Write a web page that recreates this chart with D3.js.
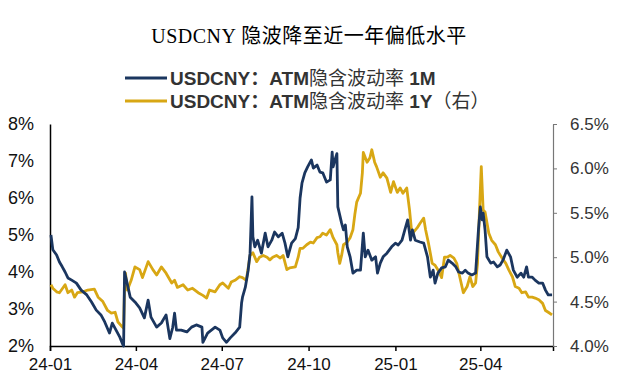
<!DOCTYPE html>
<html>
<meta charset=utf-8>
<head>
<style>
  body { margin: 0; background: #fff; }
  text { font-family: "Liberation Sans", "Noto Sans CJK SC", sans-serif; }
</style>
</head>
<body>
<svg id="canvas" width="640" height="386"></svg>
<script src="https://d3js.org/d3.v7.min.js"></script>
<script>

// USDCNY ATM implied vol 1M (left axis, %)
var dates1M = ['2024-01-02','2024-01-04','2024-01-08','2024-01-11','2024-01-14','2024-01-17','2024-01-20','2024-01-24','2024-01-29','2024-02-03',
  '2024-02-09','2024-02-14','2024-02-19','2024-02-24','2024-02-28','2024-03-04','2024-03-07','2024-03-11','2024-03-15','2024-03-18',
  '2024-03-19','2024-03-20','2024-03-22','2024-03-26','2024-03-31','2024-04-05','2024-04-10','2024-04-14','2024-04-17','2024-04-23',
  '2024-04-28','2024-05-03','2024-05-07','2024-05-10','2024-05-12','2024-05-14','2024-05-19','2024-05-25','2024-05-30','2024-06-04',
  '2024-06-10','2024-06-11','2024-06-16','2024-06-20','2024-06-24','2024-06-29','2024-07-02','2024-07-06','2024-07-10','2024-07-15',
  '2024-07-20','2024-07-22','2024-07-23','2024-07-26','2024-07-29','2024-07-31','2024-08-02','2024-08-03','2024-08-05','2024-08-08',
  '2024-08-12','2024-08-16','2024-08-19','2024-08-23','2024-08-26','2024-08-30','2024-09-03','2024-09-06','2024-09-09','2024-09-13',
  '2024-09-17','2024-09-20','2024-09-22','2024-09-24','2024-09-27','2024-09-30','2024-10-04','2024-10-06','2024-10-10','2024-10-13',
  '2024-10-16','2024-10-20','2024-10-24','2024-10-26','2024-10-27','2024-10-29','2024-10-31','2024-11-01','2024-11-05','2024-11-07',
  '2024-11-09','2024-11-11','2024-11-14','2024-11-17','2024-11-21','2024-11-25','2024-11-28','2024-11-30','2024-12-03','2024-12-07',
  '2024-12-11','2024-12-13','2024-12-16','2024-12-19','2024-12-23','2024-12-28','2025-01-01','2025-01-04','2025-01-08','2025-01-11',
  '2025-01-14','2025-01-17','2025-01-19','2025-01-22','2025-01-27','2025-01-31','2025-02-04','2025-02-07','2025-02-10','2025-02-12',
  '2025-02-15','2025-02-19','2025-02-23','2025-02-26','2025-03-02','2025-03-06','2025-03-09','2025-03-13','2025-03-16','2025-03-19',
  '2025-03-23','2025-03-27','2025-03-30','2025-04-01','2025-04-03','2025-04-04','2025-04-06','2025-04-08','2025-04-12','2025-04-15',
  '2025-04-19','2025-04-22','2025-04-25','2025-04-29','2025-05-03','2025-05-06','2025-05-10','2025-05-14','2025-05-17','2025-05-20',
  '2025-05-22','2025-05-26','2025-05-29','2025-06-02','2025-06-06','2025-06-09','2025-06-12','2025-06-16'];
var vol1M = [5.0,4.6,4.46,4.27,4.14,4.0,3.84,3.78,3.7,3.51,
  3.38,3.19,2.97,2.84,2.65,2.35,2.62,2.43,2.24,2.05,
  2.0,4.0,3.78,3.32,3.19,3.03,2.76,3.24,2.78,2.51,
  2.62,2.84,2.2,2.5,2.89,2.43,2.43,2.38,2.51,2.57,
  2.51,2.1,2.35,2.43,2.51,2.43,2.22,2.1,2.22,2.35,
  2.51,3.16,3.32,3.59,4.05,4.51,6.03,4.95,4.68,4.86,
  4.51,5.05,4.68,4.86,5.08,4.95,5.05,4.78,4.41,4.78,
  4.9,5.2,6.0,6.4,6.68,6.84,7.03,6.81,6.89,6.7,
  6.68,6.43,6.49,7.24,6.84,7.03,7.2,5.76,5.32,5.14,
  5.27,4.68,4.41,3.97,4.05,4.05,5.05,4.41,4.59,4.32,
  4.41,3.97,4.24,4.41,4.51,4.68,4.78,4.73,4.86,5.14,
  5.41,4.86,5.14,4.86,4.81,4.78,4.41,3.86,4.05,3.7,
  3.97,4.11,4.14,4.32,4.24,4.14,4.0,3.97,4.05,3.97,
  3.92,3.97,5.14,5.76,5.41,5.59,5.14,4.41,4.24,4.27,
  4.14,4.19,4.32,4.59,4.41,4.05,3.86,3.97,3.86,4.14,
  3.86,3.86,3.78,3.7,3.7,3.51,3.38,3.38];

// USDCNY ATM implied vol 1Y (right axis, %)
var dates1Y = ['2024-01-02','2024-01-04','2024-01-08','2024-01-11','2024-01-17','2024-01-20','2024-01-24','2024-01-27','2024-01-30','2024-02-05',
  '2024-02-10','2024-02-17','2024-02-21','2024-02-26','2024-03-02','2024-03-06','2024-03-10','2024-03-13','2024-03-18','2024-03-19',
  '2024-03-20','2024-03-21','2024-03-23','2024-03-27','2024-03-31','2024-04-05','2024-04-08','2024-04-14','2024-04-19','2024-04-23',
  '2024-04-28','2024-05-03','2024-05-09','2024-05-12','2024-05-15','2024-05-21','2024-05-26','2024-05-31','2024-06-06','2024-06-11',
  '2024-06-15','2024-06-18','2024-06-24','2024-06-29','2024-07-02','2024-07-08','2024-07-11','2024-07-15','2024-07-20','2024-07-23',
  '2024-07-27','2024-07-31','2024-08-03','2024-08-07','2024-08-10','2024-08-14','2024-08-18','2024-08-21','2024-08-24','2024-08-28',
  '2024-09-01','2024-09-04','2024-09-08','2024-09-11','2024-09-17','2024-09-20','2024-09-22','2024-09-25','2024-09-29','2024-10-03',
  '2024-10-06','2024-10-10','2024-10-13','2024-10-16','2024-10-20','2024-10-24','2024-10-27','2024-10-31','2024-11-01','2024-11-03',
  '2024-11-05','2024-11-07','2024-11-11','2024-11-14','2024-11-17','2024-11-19','2024-11-21','2024-11-25','2024-11-27','2024-11-28',
  '2024-12-02','2024-12-05','2024-12-07','2024-12-10','2024-12-12','2024-12-16','2024-12-19','2024-12-23','2024-12-27','2024-12-30',
  '2025-01-03','2025-01-06','2025-01-09','2025-01-13','2025-01-16','2025-01-18','2025-01-20','2025-01-24','2025-01-27','2025-01-31',
  '2025-02-02','2025-02-05','2025-02-09','2025-02-12','2025-02-15','2025-02-19','2025-02-22','2025-02-25','2025-02-28','2025-03-04',
  '2025-03-07','2025-03-11','2025-03-14','2025-03-18','2025-03-21','2025-03-24','2025-03-27','2025-03-29','2025-03-31','2025-04-02',
  '2025-04-04','2025-04-06','2025-04-10','2025-04-13','2025-04-17','2025-04-20','2025-04-24','2025-04-28','2025-05-01','2025-05-05',
  '2025-05-08','2025-05-12','2025-05-15','2025-05-19','2025-05-22','2025-05-26','2025-05-29','2025-06-02','2025-06-06','2025-06-09',
  '2025-06-12','2025-06-16'];
var vol1Y = [4.69,4.65,4.61,4.6,4.69,4.6,4.63,4.55,4.6,4.61,
  4.63,4.64,4.55,4.5,4.4,4.37,4.38,4.27,4.21,4.2,
  4.66,4.82,4.63,4.74,4.89,4.86,4.77,4.95,4.86,4.8,
  4.89,4.82,4.71,4.74,4.66,4.69,4.63,4.65,4.6,4.57,
  4.54,4.63,4.61,4.69,4.71,4.65,4.72,4.74,4.78,4.77,
  4.74,5.02,5.05,4.95,5.0,5.02,5.0,4.97,5.0,5.02,
  4.99,5.02,4.86,4.88,4.89,5.0,5.1,5.1,5.14,5.17,
  5.16,5.22,5.23,5.27,5.25,5.31,5.22,5.14,5.05,4.93,
  5.02,5.14,5.17,5.22,5.31,5.48,5.62,5.72,5.95,6.18,
  6.07,6.12,6.21,6.07,6.02,5.9,5.95,5.89,5.73,5.85,
  5.73,5.78,5.72,5.78,5.53,5.31,5.28,5.33,5.38,5.44,
  5.31,5.16,4.93,4.91,4.86,4.77,5.0,5.0,5.02,4.99,
  4.93,4.74,4.6,4.67,4.78,4.67,4.71,4.93,5.5,6.02,
  5.53,5.51,5.27,5.19,5.14,5.06,4.99,4.93,4.86,4.78,
  4.67,4.65,4.6,4.61,4.55,4.55,4.54,4.52,4.48,4.4,
  4.38,4.35];

var leftTicks = [2, 3, 4, 5, 6, 7, 8];
var rightTicks = [4.0, 4.5, 5.0, 5.5, 6.0, 6.5];
// legend labels split into [latin (bold), cjk, tail]
var seriesNames = [
  ['USDCNY：ATM', '隐含波动率', ' 1M'],
  ['USDCNY：ATM', '隐含波动率', ' 1Y', '（右）']
];
var seriesColors = ['#1b365f', '#d8a714'];

var svg = d3.select('#canvas');
var margin = {left: 50, right: 87, top: 124, bottom: 40};
var W = 640, H = 386;
var parse = d3.timeParse('%Y-%m-%d');

var x = d3.scaleTime()
  .domain([parse('2024-01-01'), parse('2025-06-17')])
  .range([margin.left, W - margin.right]);
var yL = d3.scaleLinear().domain([2, 8]).range([H - margin.bottom, margin.top]);
var yR = d3.scaleLinear().domain([4, 6.5]).range([H - margin.bottom, margin.top]);

// title
var title = svg.append('text')
  .attr('x', 309).attr('y', 43)
  .attr('text-anchor', 'middle')
  .style('font-size', '20px')
  .style('letter-spacing', '0.5px')
  .attr('fill', '#000');
title.append('tspan').style('font-family', '"Liberation Serif", serif').text('USDCNY ');
title.append('tspan').style('font-family', '"Noto Sans CJK SC", sans-serif').text('隐波降至近一年偏低水平');

// legend
seriesNames.forEach(function(parts, i) {
  var ly = 78 + i * 23;
  svg.append('line')
    .attr('x1', 125).attr('x2', 167)
    .attr('y1', ly).attr('y2', ly)
    .attr('stroke', seriesColors[i]).attr('stroke-width', 3.2);
  var t = svg.append('text')
    .attr('x', 170).attr('y', ly + 7)
    .style('font-size', '19px')
    .attr('fill', '#333');
  parts.forEach(function(p, j) {
    t.append('tspan')
      .style('font-weight', (j === 1 || j === 3) ? 'normal' : 'bold')
      .text(p);
  });
});

// axes
var xAxis = svg.append('g')
  .attr('transform', 'translate(0,' + (H - margin.bottom) + ')')
  .call(d3.axisBottom(x).ticks(d3.timeMonth.every(3)).tickFormat(d3.timeFormat('%y-%m')).tickSizeOuter(0).tickSize(5));
xAxis.select('.domain').attr('stroke', '#000').attr('stroke-width', 1.5);
xAxis.selectAll('.tick line').attr('stroke', '#000').attr('stroke-width', 1.5);
xAxis.selectAll('text').style('font-size', '17px').attr('fill', '#111').attr('dy', '0.95em');

var lAxis = svg.append('g')
  .attr('transform', 'translate(' + margin.left + ',0)')
  .call(d3.axisLeft(yL).tickValues(leftTicks).tickFormat(function(d) { return d + '%'; }).tickSize(0).tickPadding(16));
lAxis.select('.domain').attr('stroke', '#000').attr('stroke-width', 1.5);
lAxis.selectAll('text').style('font-size', '18px').attr('fill', '#111');

var rAxis = svg.append('g')
  .attr('transform', 'translate(' + (W - margin.right) + ',0)')
  .call(d3.axisRight(yR).tickValues(rightTicks).tickFormat(function(d) { return d.toFixed(1) + '%'; }).tickSize(4).tickSizeOuter(0).tickPadding(13));
rAxis.select('.domain').attr('stroke', '#777').attr('stroke-width', 1.2);
rAxis.selectAll('.tick line').attr('stroke', '#777');
rAxis.selectAll('text').style('font-size', '17px').attr('fill', '#333');

// lines
var data1M = dates1M.map(function(d, i) { return {date: parse(d), v: vol1M[i]}; });
var data1Y = dates1Y.map(function(d, i) { return {date: parse(d), v: vol1Y[i]}; });

svg.append('path')
  .datum(data1Y)
  .attr('fill', 'none').attr('stroke', seriesColors[1]).attr('stroke-width', 2.8)
  .attr('stroke-linejoin', 'round')
  .attr('d', d3.line().x(function(d) { return x(d.date); }).y(function(d) { return yR(d.v); }));

svg.append('path')
  .datum(data1M)
  .attr('fill', 'none').attr('stroke', seriesColors[0]).attr('stroke-width', 2.8)
  .attr('stroke-linejoin', 'round')
  .attr('d', d3.line().x(function(d) { return x(d.date); }).y(function(d) { return yL(d.v); }));

</script>
</body>
</html>
